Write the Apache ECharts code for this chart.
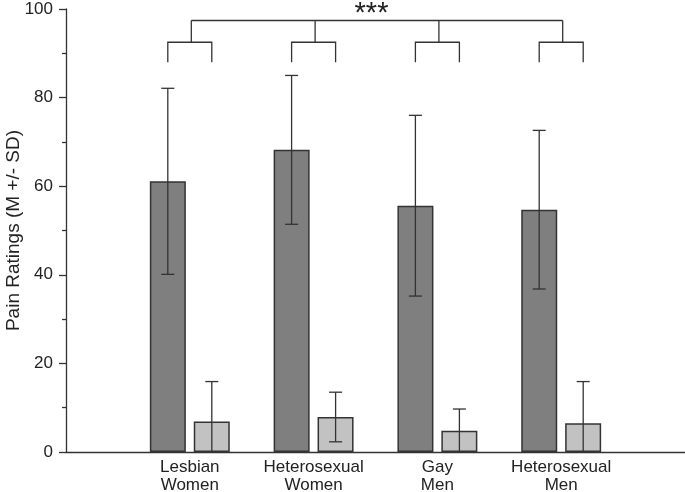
<!DOCTYPE html>
<html>
<head>
<meta charset="utf-8">
<script src="https://cdn.jsdelivr.net/npm/echarts@6/dist/echarts.min.js"></script>
<style>
  html, body { margin: 0; padding: 0; background: #fff; }
  #chart { width: 685px; height: 492px; }
</style>
</head>
<body>
<div id="chart"></div>
<script>
// groups on the x axis (empty ends so the groups sit on ticks 1..4)
const categories = ['', 'Lesbian\nWomen', 'Heterosexual\nWomen', 'Gay\nMen', 'Heterosexual\nMen', '']
// dark bars: mean and SD
const darkMean = [61.1, 68.2, 55.6, 54.7]
const darkSD = [21.0, 16.8, 20.4, 17.9]
// light bars: mean and SD
const lightMean = [6.9, 7.9, 4.8, 6.5]
const lightSD = [9.0, 5.6, 4.9, 9.4]
const yTicks = [0, 20, 40, 60, 80, 100]
const sigLabel = '***'

const dark = '#7f7f7f'
const light = '#c2c2c2'
const ink = '#333333'
const barOffset = 22   // px from group centre to each bar centre
const capHalf = 6.5

// pad series to the category list
const pad = arr => ['-'].concat(arr, ['-'])

function errorItem(offset) {
  return function (params, api) {
    const idx = api.value(0)
    const m = api.value(1)
    const sd = api.value(2)
    const hi = api.coord([idx, m + sd])
    const lo = api.coord([idx, m - sd])
    const x = hi[0] + offset
    const style = { stroke: ink, lineWidth: 1.3 }
    return {
      type: 'group',
      children: [
        { type: 'line', shape: { x1: x, y1: hi[1], x2: x, y2: lo[1] }, style },
        { type: 'line', shape: { x1: x - capHalf, y1: hi[1], x2: x + capHalf, y2: hi[1] }, style },
        { type: 'line', shape: { x1: x - capHalf, y1: lo[1], x2: x + capHalf, y2: lo[1] }, style }
      ]
    }
  }
}

const darkErr = darkMean.map((m, i) => [i + 1, m, darkSD[i]])
const lightErr = lightMean.map((m, i) => [i + 1, m, lightSD[i]])

// bracket heights (in rating units)
const legLow = 88, legTop = 92.5, topLine = 97.4

let chart = echarts.init(document.getElementById('chart'))

const option = {
  animation: false,
  textStyle: { fontFamily: 'Liberation Sans, Arial, sans-serif' },
  grid: { left: 66, right: 0, top: 9, bottom: 40, outerBoundsMode: 'none', containLabel: false },
  xAxis: {
    type: 'category',
    data: categories,
    boundaryGap: false,
    axisLine: { lineStyle: { color: ink, width: 1.3 } },
    axisTick: { show: false },
    axisLabel: { color: '#222', fontSize: 17, lineHeight: 18, margin: 6, interval: 0 },
    splitLine: { show: false }
  },
  yAxis: {
    type: 'value',
    min: yTicks[0],
    max: yTicks[yTicks.length - 1],
    interval: 20,
    name: 'Pain Ratings (M +/- SD)',
    nameLocation: 'middle',
    nameGap: 43,
    nameMoveOverlap: false,
    nameTextStyle: { color: '#222', fontSize: 19 },
    axisLine: { show: true, lineStyle: { color: ink, width: 1.3 } },
    axisTick: { show: true, length: 7, lineStyle: { color: ink, width: 1.3 } },
    minorTick: { show: true, splitNumber: 2, length: 4, lineStyle: { color: ink, width: 1.3 } },
    axisLabel: { color: '#222', fontSize: 17, margin: 13 },
    splitLine: { show: false }
  },
  series: [
    {
      type: 'bar',
      data: pad(darkMean),
      barWidth: 36,
      barGap: '22%',
      itemStyle: { color: dark, borderColor: ink, borderWidth: 1.5 },
      z: 2
    },
    {
      type: 'bar',
      data: pad(lightMean),
      barWidth: 36,
      barGap: '22%',
      itemStyle: { color: light, borderColor: ink, borderWidth: 1.5 },
      z: 2
    },
    {
      type: 'custom',
      data: darkErr,
      renderItem: errorItem(-barOffset),
      clip: true,
      z: 3
    },
    {
      type: 'custom',
      data: lightErr,
      renderItem: errorItem(barOffset),
      clip: true,
      z: 3
    },
    {
      // group brackets
      type: 'custom',
      data: [1, 2, 3, 4].map(i => [i]),
      clip: false,
      renderItem: function (params, api) {
        const idx = api.value(0)
        const low = api.coord([idx, legLow])
        const mid = api.coord([idx, legTop])
        const top = api.coord([idx, topLine])
        const c = low[0]
        const style = { stroke: ink, lineWidth: 1.3 }
        return {
          type: 'group',
          children: [
            { type: 'polyline', shape: { points: [[c - barOffset, low[1]], [c - barOffset, mid[1]], [c + barOffset, mid[1]], [c + barOffset, low[1]]] }, style: { stroke: ink, lineWidth: 1.3, fill: null } },
            { type: 'line', shape: { x1: c + 1.5, y1: mid[1], x2: c + 1.5, y2: top[1] }, style }
          ]
        }
      },
      z: 3
    },
    {
      // top line and significance stars
      type: 'custom',
      data: [[1, 4]],
      clip: false,
      renderItem: function (params, api) {
        const a = api.coord([api.value(0), topLine])
        const b = api.coord([api.value(1), topLine])
        return {
          type: 'group',
          children: [
            { type: 'line', shape: { x1: a[0] + 1.5, y1: a[1], x2: b[0] + 1.5, y2: b[1] }, style: { stroke: ink, lineWidth: 1.3 } },
            {
              type: 'text',
              x: (a[0] + b[0]) / 2 - 4,
              y: a[1] - 7,
              style: { text: sigLabel, fontSize: 29, fill: '#222', align: 'center', verticalAlign: 'middle', fontFamily: 'Liberation Sans, Arial, sans-serif' }
            }
          ]
        }
      },
      z: 3
    }
  ]
}

chart.setOption(option)
</script>
</body>
</html>
